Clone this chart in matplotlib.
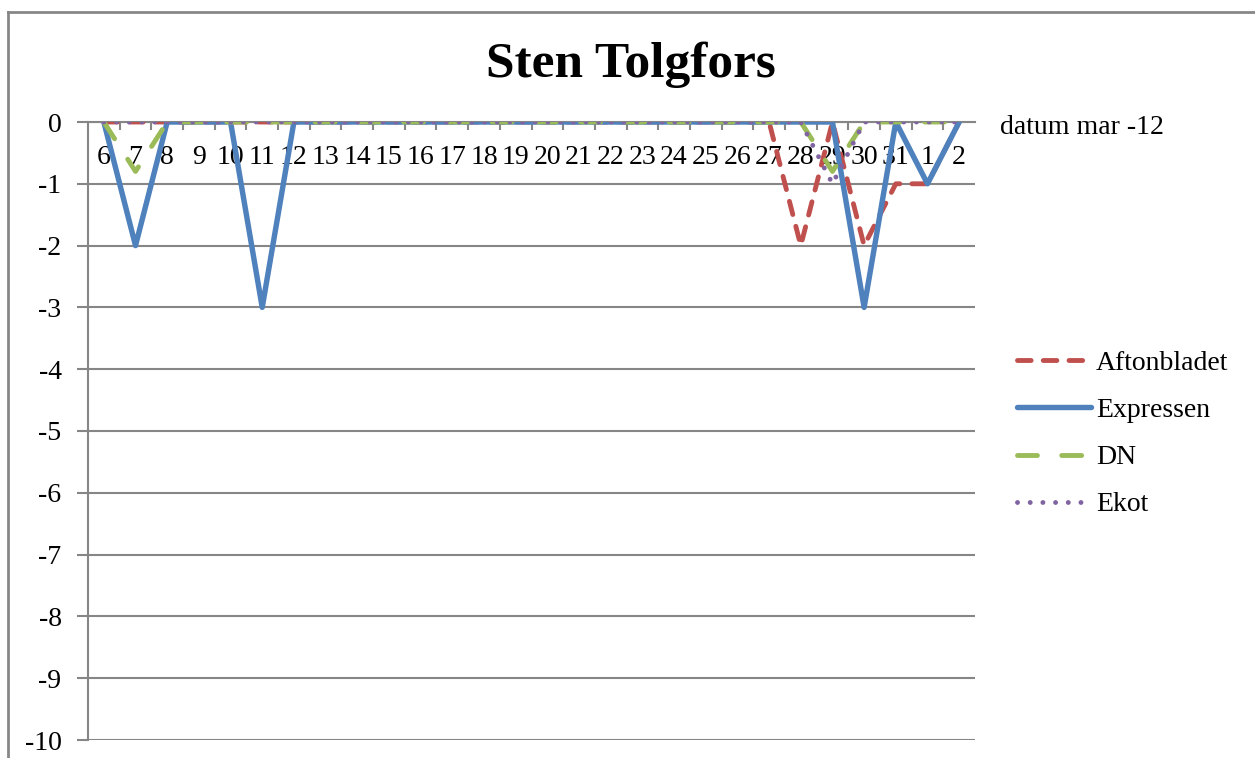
import matplotlib
matplotlib.use("Agg")
import matplotlib.pyplot as plt
from matplotlib.lines import Line2D

plt.rcParams['font.family'] = ['Liberation Serif', 'DejaVu Serif']
plt.rcParams['axes.unicode_minus'] = False

categories = ['6', '7', '8', '9', '10', '11', '12', '13', '14', '15', '16', '17', '18', '19',
              '20', '21', '22', '23', '24', '25', '26', '27', '28', '29', '30', '31', '1', '2']
aftonbladet = [0, 0, 0, 0, 0, 0, 0, 0, 0, 0, 0, 0, 0, 0, 0, 0, 0, 0, 0, 0, 0, 0, -2, 0, -2, -1, -1, 0]
expressen = [0, -2, 0, 0, 0, -3, 0, 0, 0, 0, 0, 0, 0, 0, 0, 0, 0, 0, 0, 0, 0, 0, 0, 0, -3, 0, -1, 0]
dn = [0, -0.8, 0, 0, 0, 0, 0, 0, 0, 0, 0, 0, 0, 0, 0, 0, 0, 0, 0, 0, 0, 0, 0, -0.8, 0, 0, 0, 0]
ekot = [0, 0, 0, 0, 0, 0, 0, 0, 0, 0, 0, 0, 0, 0, 0, 0, 0, 0, 0, 0, 0, 0, 0, -1, 0, 0, 0, 0]
yticks = [0, -1, -2, -3, -4, -5, -6, -7, -8, -9, -10]
title = "Sten Tolgfors"
xlabel = "datum mar -12"

W, H = 1255, 758
fs = 20
fig = plt.figure(figsize=(W / 100, H / 100), dpi=100)
ax = fig.add_axes([88 / W, 1 - 740 / H, (975 - 88) / W, (740 - 122) / H])

grid_c = '#868686'
x = list(range(len(categories)))
lw = 3.5

ax.plot(x, aftonbladet, color='#C0504D', lw=lw, dashes=(2.8, 2.5), dash_capstyle='round',
        label='Aftonbladet', zorder=3)
ax.plot(x, expressen, color='#4F81BD', lw=lw + 0.4, solid_capstyle='round', label='Expressen', zorder=4)
ax.plot(x, dn, color='#9BBB59', lw=lw, dashes=(4.1, 5.0), dash_capstyle='round', label='DN', zorder=5)
ax.plot(x, ekot, color='#8064A2', lw=lw, dashes=(0.01, 2.6), dash_capstyle='round', label='Ekot', zorder=6)

ax.set_xlim(-0.5, len(categories) - 0.5)
ax.set_ylim(-10, 0)
ax.set_yticks(yticks)
ax.set_yticklabels([str(v) for v in yticks], fontsize=fs)
ax.tick_params(axis='y', direction='out', length=8, width=1.5, color=grid_c, pad=11)
ax.yaxis.grid(True, color=grid_c, lw=1.5)
ax.set_axisbelow(True)

# category axis on top (at y = 0)
ax.xaxis.tick_top()
ax.set_xticks([i + 0.5 for i in range(len(categories) - 1)])
ax.set_xticklabels([])
ax.tick_params(axis='x', direction='in', length=6, width=1.5, color=grid_c)
for i, c in enumerate(categories):
    ax.text(i, -0.58, c, ha='center', va='center', fontsize=fs, zorder=2)

for s in ['right', 'bottom']:
    ax.spines[s].set_visible(False)
for s in ['left', 'top']:
    ax.spines[s].set_color(grid_c)
    ax.spines[s].set_linewidth(1.5)
ax.spines['top'].set_zorder(1)

fig.text(1000 / W, 1 - 127 / H, xlabel, ha='left', va='center', fontsize=fs)
fig.text(631 / W, 1 - 65 / H, title, ha='center', va='center', fontsize=37, fontweight='bold')

ax.legend(loc='center left', bbox_to_anchor=(1017 / W, 1 - 434 / H), bbox_transform=fig.transFigure,
          frameon=False, fontsize=fs, handlelength=2.65, handletextpad=0.2, labelspacing=0.78,
          borderpad=0, borderaxespad=0)

# outer chart frame
fig.add_artist(Line2D([8 / W, 1], [1 - 12 / H, 1 - 12 / H], transform=fig.transFigure, color='#878787', lw=2))
fig.add_artist(Line2D([8 / W, 8 / W], [0, 1 - 12 / H], transform=fig.transFigure, color='#878787', lw=2))

fig.savefig('out.png', dpi=100)
